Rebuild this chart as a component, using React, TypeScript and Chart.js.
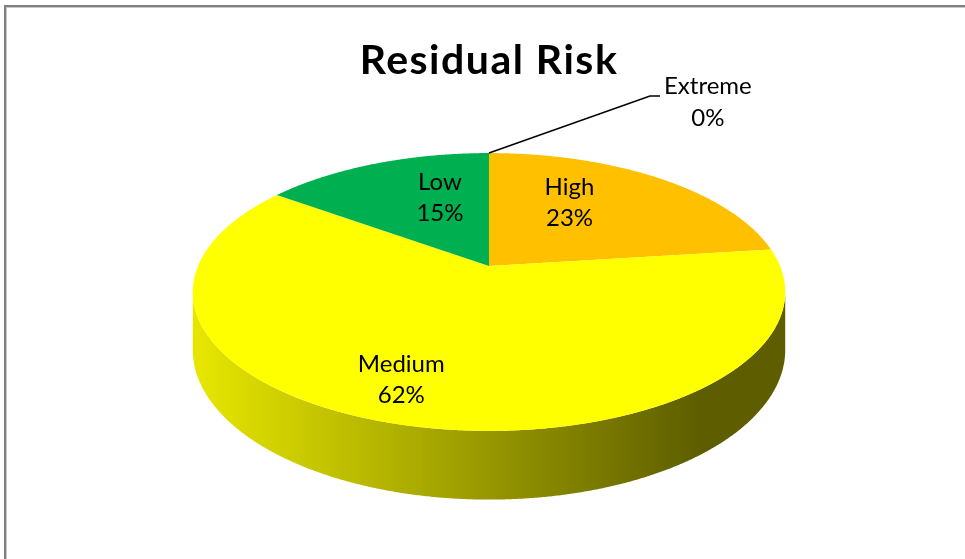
import React, { useEffect, useRef } from "react";
import { Chart, registerables } from "chart.js";

Chart.register(...registerables);

const categories = ["Extreme", "High", "Medium", "Low"];
const shares = [0, 23, 62, 15];
const sliceColors = ["#ff0000", "#ffc000", "#ffff00", "#00b050"];
const chartTitle = "Residual Risk";

function shade(hex: string, k: number) {
  const n = parseInt(hex.slice(1), 16);
  const r = Math.round(((n >> 16) & 255) * k);
  const g = Math.round(((n >> 8) & 255) * k);
  const b = Math.round((n & 255) * k);
  return `rgb(${r},${g},${b})`;
}

const threeDPie = {
  id: "threeDPie",
  beforeDatasetsDraw(chart: any, _args: any, opts: any) {
    const meta = chart.getDatasetMeta(0);
    const arcs = meta.data as any[];
    if (!arcs.length) return false;
    const cx = arcs[0].x, cy = arcs[0].y, R = arcs[0].outerRadius;
    const rx = R * opts.xScale, ry = R * opts.yScale, E = opts.persp, D = R * opts.depth;
    const ctx = chart.ctx as CanvasRenderingContext2D;
    const proj = (ang: number, r: number, lift: number) => {
      const x = Math.cos(ang) * r, y = Math.sin(ang) * r;
      const p = 1 / (1 - E * y);
      return [cx + rx * x * p, cy + (ry * y + lift) * p];
    };
    const colors = chart.data.datasets[0].backgroundColor as string[];
    const vis0 = Math.asin(E), vis1 = Math.PI - vis0;
    const step = 0.005;
    ctx.save();
    // sides
    arcs.forEach((arc: any, i: number) => {
      const s = Math.max(arc.startAngle, vis0);
      const e = Math.min(arc.endAngle, vis1);
      if (e <= s) return;
      ctx.beginPath();
      for (let a = s; a < e; a += step) {
        const [x, y] = proj(a, 1, 0);
        a === s ? ctx.moveTo(x, y) : ctx.lineTo(x, y);
      }
      let [xe, ye] = proj(e, 1, 0);
      ctx.lineTo(xe, ye);
      for (let a = e; a > s; a -= step) {
        const [x, y] = proj(a, 1, D);
        ctx.lineTo(x, y);
      }
      [xe, ye] = proj(s, 1, D);
      ctx.lineTo(xe, ye);
      ctx.closePath();
      const g = ctx.createLinearGradient(cx - rx, 0, cx + rx * opts.darkAt, 0);
      g.addColorStop(0, shade(colors[i], opts.light));
      g.addColorStop(1, shade(colors[i], opts.dark));
      ctx.fillStyle = g;
      ctx.fill();
    });
    // top faces
    arcs.forEach((arc: any, i: number) => {
      const s = arc.startAngle, e = arc.endAngle;
      if (e - s <= 1e-6) {
        const [x, y] = proj(s, 1, 0);
        ctx.beginPath();
        ctx.moveTo(cx, cy);
        ctx.lineTo(x, y);
        ctx.strokeStyle = "rgba(255,255,255,0.75)";
        ctx.lineWidth = 1.2;
        ctx.stroke();
        return;
      }
      ctx.beginPath();
      ctx.moveTo(cx, cy);
      for (let a = s; a < e; a += step) {
        const [x, y] = proj(a, 1, 0);
        ctx.lineTo(x, y);
      }
      const [xe, ye] = proj(e, 1, 0);
      ctx.lineTo(xe, ye);
      ctx.closePath();
      ctx.fillStyle = colors[i];
      ctx.fill();
    });
    ctx.restore();
    return false;
  },
  afterDraw(chart: any, _args: any, opts: any) {
    const ctx = chart.ctx as CanvasRenderingContext2D;
    const meta = chart.getDatasetMeta(0);
    const arcs = meta.data as any[];
    const cx = arcs[0].x, cy = arcs[0].y, R = arcs[0].outerRadius;
    const rx = R * opts.xScale, ry = R * opts.yScale, E = opts.persp;
    const proj = (ang: number, r: number) => {
      const x = Math.cos(ang) * r, y = Math.sin(ang) * r;
      const p = 1 / (1 - E * y);
      return [cx + rx * x * p, cy + ry * y * p];
    };
    const values = chart.data.datasets[0].data as number[];
    const total = values.reduce((a, b) => a + b, 0);
    const labels = chart.data.labels as string[];
    ctx.save();
    // frame
    ctx.fillStyle = "#7f7f7f";
    ctx.fillRect(4, 5, chart.width, 2);
    ctx.fillRect(4, 5, 2, chart.height);
    ctx.fillStyle = "#c8c8c8";
    ctx.fillRect(6, 7, chart.width, 1);
    ctx.fillRect(6, 7, 1, chart.height);
    // title
    ctx.fillStyle = "#000";
    ctx.textAlign = "center";
    ctx.textBaseline = "alphabetic";
    ctx.font = "bold 41px Lato";
    (ctx as any).letterSpacing = "1.5px";
    ctx.fillText(chartTitle, cx, opts.titleBaseline);
    (ctx as any).letterSpacing = "0px";
    // labels
    ctx.font = "24px Lato";
    ctx.textBaseline = "middle";
    arcs.forEach((arc: any, i: number) => {
      const pct = Math.round((values[i] / total) * 100) + "%";
      const mid = (arc.startAngle + arc.endAngle) / 2;
      const off = opts.labelOffsets[i] || [0, 0];
      if (values[i] === 0) {
        const [x0, y0] = proj(mid, 1);
        const x1 = x0 + off[0], y1 = y0 + off[1];
        ctx.beginPath();
        ctx.moveTo(x0, y0);
        ctx.lineTo(x1, y1);
        ctx.lineTo(x1 + 10, y1);
        ctx.strokeStyle = "#000";
        ctx.lineWidth = 1.5;
        ctx.stroke();
        const tx = x1 + 10 + ctx.measureText(labels[i]).width / 2 + 4;
        ctx.fillText(labels[i], tx, y1 - 10);
        ctx.fillText(pct, tx, y1 + 22);
        return;
      }
      const [x, y] = proj(mid, opts.labelRadius);
      const lx = x + off[0], ly = y + off[1];
      ctx.fillText(labels[i], lx, ly - 15.5);
      ctx.fillText(pct, lx, ly + 15.5);
    });
    ctx.restore();
  },
};

export default function App() {
  const ref = useRef<HTMLCanvasElement>(null);
  useEffect(() => {
    const chart = new Chart(ref.current!, {
      type: "pie",
      data: {
        labels: categories,
        datasets: [{ data: shares, backgroundColor: sliceColors, borderWidth: 0 }],
      },
      options: {
        responsive: false,
        animation: false,
        devicePixelRatio: 1,
        layout: { padding: { left: 13, top: 0, right: 0, bottom: 27 } },
        plugins: {
          legend: { display: false },
          tooltip: { enabled: false },
          title: { display: false },
          threeDPie: {
            xScale: 1.094,
            yScale: 0.504,
            persp: 0.187,
            depth: 0.21,
            light: 0.9,
            dark: 0.37,
            darkAt: 0.72,
            titleBaseline: 74,
            labelRadius: 0.6,
            labelOffsets: [[161, -57], [-26, -8], [-39, 26], [23, -3]],
          },
        } as any,
      },
      plugins: [threeDPie as any],
    });
    return () => chart.destroy();
  }, []);
  return (
    <div style={{ position: "fixed", left: 0, top: 0, width: 965, height: 559, background: "#fff" }}>
      <canvas ref={ref} width={965} height={559} style={{ display: "block" }} />
    </div>
  );
}
